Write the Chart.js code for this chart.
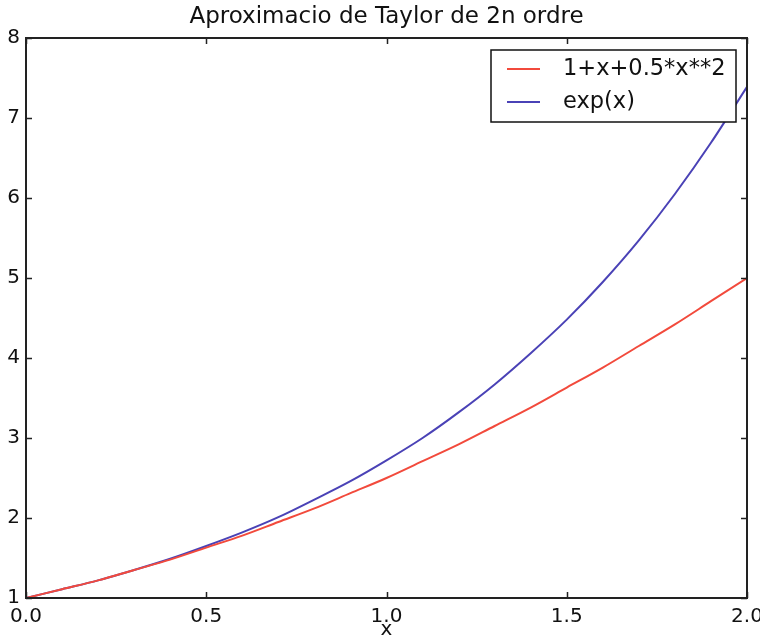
<!DOCTYPE html>
<html>
<head>
<meta charset="utf-8">
<script src="https://cdn.jsdelivr.net/npm/chart.js@4/dist/chart.umd.min.js"></script>
<style>
  html, body { margin: 0; padding: 0; background: #fff; }
  #wrap { width: 760px; height: 637px; }
</style>
</head>
<body>
<div id="wrap"><canvas id="chart" width="760" height="637"></canvas></div>
<script>
// dades llegides del gràfic
const xs = [0.0, 0.1, 0.2, 0.3, 0.4, 0.5, 0.6, 0.7, 0.8, 0.9, 1.0,
            1.1, 1.2, 1.3, 1.4, 1.5, 1.6, 1.7, 1.8, 1.9, 2.0];
const taylorVals = [1.00, 1.11, 1.22, 1.35, 1.48, 1.63, 1.78, 1.95, 2.12, 2.31, 2.50,
                    2.71, 2.92, 3.15, 3.38, 3.63, 3.88, 4.15, 4.42, 4.71, 5.00];
const expVals = [1.00, 1.11, 1.22, 1.35, 1.49, 1.65, 1.82, 2.01, 2.23, 2.46, 2.72,
                 3.00, 3.32, 3.67, 4.06, 4.48, 4.95, 5.47, 6.05, 6.69, 7.39];
const xTicks = [0.0, 0.5, 1.0, 1.5, 2.0];
const yTicks = [1, 2, 3, 4, 5, 6, 7, 8];
const labels = ['1+x+0.5*x**2', 'exp(x)'];
const colors = ['#f24a3c', '#4a42b6'];

const FONT = "'DejaVu Sans', sans-serif";
const AXIS = '#222';

function pts(vals) { return xs.map((x, i) => ({ x: x, y: vals[i] })); }

// marc, ticks interiors i llegenda amb requadre
const framePlugin = {
  id: 'frame',
  afterDatasetsDraw(chart) {
    const { ctx, chartArea: a, scales } = chart;
    ctx.save();
    ctx.strokeStyle = AXIS;
    ctx.lineWidth = 1.5;
    const L = 6;
    ctx.beginPath();
    xTicks.forEach(v => {
      const px = Math.round(scales.x.getPixelForValue(v)) + 0.5;
      ctx.moveTo(px, a.bottom); ctx.lineTo(px, a.bottom - L);
      ctx.moveTo(px, a.top); ctx.lineTo(px, a.top + L);
    });
    yTicks.forEach(v => {
      const py = Math.round(scales.y.getPixelForValue(v)) + 0.5;
      ctx.moveTo(a.left, py); ctx.lineTo(a.left + L, py);
      ctx.moveTo(a.right, py); ctx.lineTo(a.right - L, py);
    });
    ctx.stroke();
    ctx.lineWidth = 2;
    ctx.strokeRect(a.left, a.top, a.right - a.left, a.bottom - a.top);

    // llegenda
    const bx = 491, by = 50, bw = 245, bh = 72;
    ctx.fillStyle = '#fff';
    ctx.fillRect(bx, by, bw, bh);
    ctx.lineWidth = 1.5;
    ctx.strokeStyle = '#111';
    ctx.strokeRect(bx, by, bw, bh);
    ctx.font = '22.5px ' + FONT;
    ctx.textBaseline = 'middle';
    chart.data.datasets.forEach((ds, i) => {
      const y = by + 19 + i * 33;
      ctx.strokeStyle = ds.borderColor;
      ctx.lineWidth = 2;
      ctx.beginPath();
      ctx.moveTo(bx + 16, y); ctx.lineTo(bx + 49, y);
      ctx.stroke();
      ctx.fillStyle = '#111';
      ctx.fillText(ds.label, bx + 72, y);
    });
    ctx.restore();
  }
};

new Chart(document.getElementById('chart'), {
  type: 'line',
  data: {
    datasets: [
      { label: labels[0], data: pts(taylorVals), borderColor: colors[0], borderWidth: 2,
        pointRadius: 0, cubicInterpolationMode: 'monotone' },
      { label: labels[1], data: pts(expVals), borderColor: colors[1], borderWidth: 2,
        pointRadius: 0, cubicInterpolationMode: 'monotone' }
    ]
  },
  options: {
    responsive: false,
    animation: false,
    layout: { padding: { top: 0, right: 13, bottom: 0, left: 0 } },
    plugins: {
      legend: { display: false },
      tooltip: { enabled: false },
      title: {
        display: true,
        fullSize: false,
        text: 'Aproximacio de Taylor de 2n ordre',
        color: '#111',
        font: { family: FONT, size: 23, weight: 'normal' },
        padding: { top: 3, bottom: 7.4 }
      }
    },
    scales: {
      x: {
        type: 'linear', min: 0, max: 2,
        grid: { display: false, drawTicks: false },
        border: { display: false },
        afterBuildTicks: s => { s.ticks = xTicks.map(v => ({ value: v })); },
        afterFit: s => { s.height = 39; s.paddingRight = 0; s.paddingLeft = 0; },
        ticks: {
          color: '#111', padding: 7, maxRotation: 0,
          font: { family: FONT, size: 20 },
          callback: v => v.toFixed(1)
        },
        title: {
          display: true, text: 'x', color: '#111', padding: 0,
          font: { family: FONT, size: 20, lineHeight: 0.7 }
        }
      },
      y: {
        type: 'linear', min: 1, max: 8,
        grid: { display: false, drawTicks: false },
        border: { display: false },
        afterBuildTicks: s => { s.ticks = yTicks.map(v => ({ value: v })); },
        afterFit: s => { s.width = 26; s.paddingTop = 0; s.paddingBottom = 0; },
        ticks: {
          color: '#111', padding: 6,
          font: { family: FONT, size: 20 },
          callback: v => String(v)
        }
      }
    }
  },
  plugins: [framePlugin]
});
</script>
</body>
</html>
